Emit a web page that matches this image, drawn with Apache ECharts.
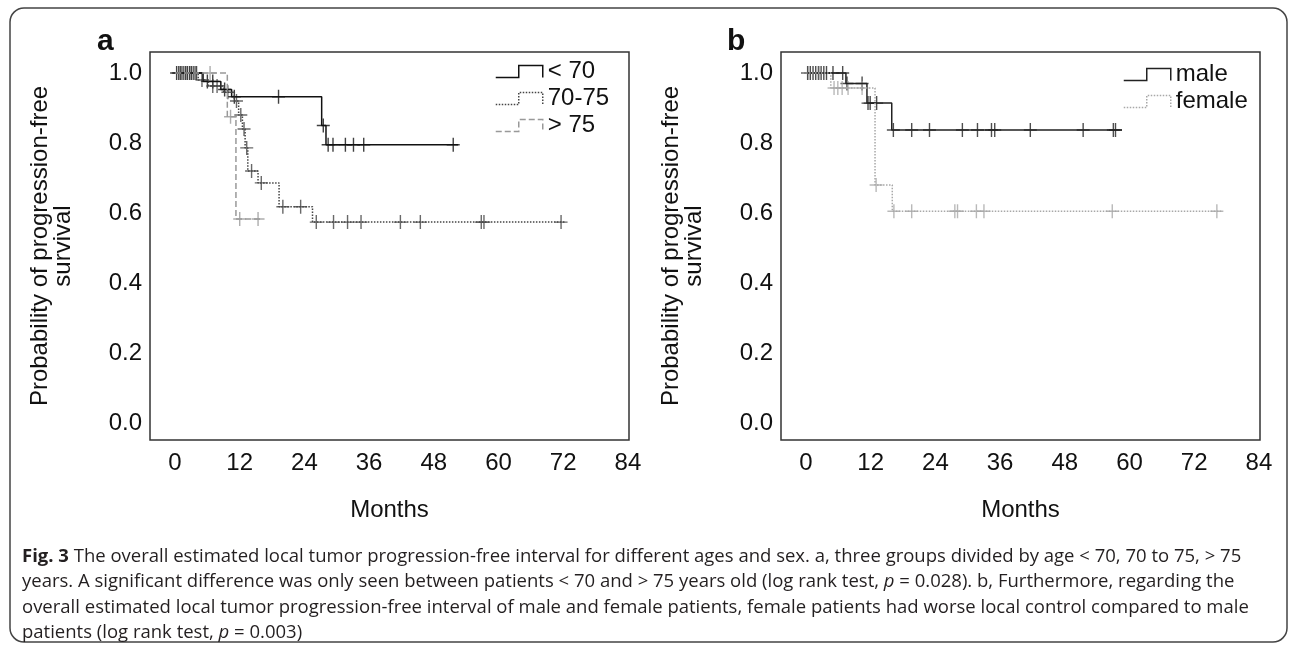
<!DOCTYPE html>
<html>
<head>
<meta charset="utf-8">
<script src="https://cdn.jsdelivr.net/npm/echarts@6/dist/echarts.min.js"></script>
<style>
  html, body { margin: 0; padding: 0; background: #fff; }
  #chart { width: 1292px; height: 645px; }
</style>
</head>
<body>
<div id="chart"></div>
<script>
// tick labels
var monthTicks = [0, 12, 24, 36, 48, 60, 72, 84];
var probTicks = [0, 0.2, 0.4, 0.6, 0.8, 1.0];

// panel a: age groups (step times in months, survival after each step)
var lt70Times = [0, 5.2, 8.5, 10.5, 27.2, 28.0, 52.5];
var lt70Surv = [1.0, 0.976, 0.953, 0.932, 0.85, 0.795, 0.795];
var lt70Cens = [0.3, 0.7, 1.1, 1.5, 1.9, 2.3, 2.7, 3.1, 3.5, 3.9, 6.0, 7.0, 9.2, 11.0, 19.2, 27.5, 28.4, 29.3, 31.6, 33.1, 35.0, 51.6];

var mid7075Times = [0, 4.3, 6.2, 9.0, 11.0, 11.8, 12.5, 13.0, 13.5, 15.4, 19.3, 25.5, 72.5];
var mid7075Surv = [1.0, 0.98, 0.963, 0.945, 0.92, 0.88, 0.84, 0.786, 0.72, 0.686, 0.618, 0.574, 0.574];
var mid7075Cens = [1.0, 2.0, 3.0, 4.0, 5.0, 7.0, 7.8, 9.8, 11.4, 12.2, 12.8, 13.3, 14.2, 16.0, 20.0, 23.3, 26.2, 29.4, 32.0, 34.5, 41.8, 45.5, 56.8, 57.3, 71.6];

var gt75Times = [0, 9.7, 11.3, 16.0];
var gt75Surv = [1.0, 0.875, 0.583, 0.583];
var gt75Cens = [6.5, 10.3, 12.0, 15.4];

// panel b: sex
var maleTimes = [0, 7.4, 11.3, 15.9, 58.6];
var maleSurv = [1.0, 0.97, 0.914, 0.837, 0.837];
var maleCens = [0.3, 0.8, 1.3, 1.8, 2.3, 2.8, 3.3, 3.8, 5.0, 6.8, 7.6, 10.4, 11.5, 11.9, 13.1, 16.2, 19.6, 22.9, 29.0, 31.8, 34.4, 35.0, 41.6, 51.4, 57.0, 57.4];

var femaleTimes = [0, 4.6, 12.8, 16.0, 77.0];
var femaleSurv = [1.0, 0.957, 0.68, 0.605, 0.605];
var femaleCens = [0.5, 2.5, 5.2, 5.9, 6.7, 7.8, 10.4, 13.0, 16.3, 19.6, 27.6, 28.1, 31.6, 33.0, 56.8, 76.2];

var FONT = 'Liberation Sans, Arial, sans-serif';
var PLUS = 'path://M5.8,0H7.2V14H5.8Z M0,6.3H13V7.7H0Z';

function pairs(times, surv) {
  var out = [];
  for (var i = 0; i < times.length; i++) out.push([times[i], surv[i]]);
  return out;
}
// survival value of the step curve at time t
function survAt(times, surv, t) {
  var v = surv[0];
  for (var i = 0; i < times.length; i++) {
    if (times[i] <= t) v = surv[i];
  }
  return v;
}
function censPoints(times, surv, cens) {
  return cens.map(function (t) { return [t, survAt(times, surv, t)]; });
}

function kmSeries(name, idx, times, surv, cens, color, type) {
  return [{
    name: name,
    type: 'line',
    step: 'end',
    xAxisIndex: idx, yAxisIndex: idx,
    showSymbol: false,
    data: pairs(times, surv),
    lineStyle: { color: color, width: 1.5, type: type },
    itemStyle: { color: color },
    silent: true
  }, {
    name: name + ' censored',
    type: 'scatter',
    xAxisIndex: idx, yAxisIndex: idx,
    symbol: PLUS,
    symbolSize: [13, 14],
    data: censPoints(times, surv, cens),
    itemStyle: { color: color },
    silent: true
  }];
}

function xAx(idx) {
  return {
    type: 'value', gridIndex: idx, min: -4.64, max: 84.2,
    axisLine: { show: false }, axisTick: { show: false }, splitLine: { show: false },
    axisLabel: { customValues: monthTicks, fontSize: 24, color: '#111', fontFamily: FONT, margin: 11 },
    name: 'Months', nameLocation: 'middle', nameGap: 58,
    nameTextStyle: { fontSize: 24, color: '#111', fontFamily: FONT }
  };
}
function yAx(idx) {
  return {
    type: 'value', gridIndex: idx, min: -0.0486, max: 1.06,
    axisLine: { show: false }, axisTick: { show: false }, splitLine: { show: false },
    axisLabel: {
      customValues: probTicks, fontSize: 24, color: '#111', fontFamily: FONT, margin: 8,
      formatter: function (v) { return v.toFixed(1); }
    },
    name: 'Probability of progression-free\nsurvival', nameLocation: 'middle', nameGap: 75,
    nameTextStyle: { fontSize: 24, color: '#111', fontFamily: FONT, lineHeight: 23 }
  };
}

var ICON = 'path://M0,12L23,12L23,0L47,0L47,12';
function legItem(name, color, type) {
  return { name: name, itemStyle: { color: 'rgba(0,0,0,0)', borderColor: color, borderWidth: 1.5, borderType: type } };
}

var c1 = '#111', c2 = '#444', c3 = '#999', cm = '#222', cf = '#a8a8a8';

var series = [].concat(
  kmSeries('< 70', 0, lt70Times, lt70Surv, lt70Cens, c1, 'solid'),
  kmSeries('70-75', 0, mid7075Times, mid7075Surv, mid7075Cens, c2, 'dotted'),
  kmSeries('> 75', 0, gt75Times, gt75Surv, gt75Cens, c3, 'dashed'),
  kmSeries('male', 1, maleTimes, maleSurv, maleCens, cm, 'solid'),
  kmSeries('female', 1, femaleTimes, femaleSurv, femaleCens, cf, 'dotted')
);

var captionLines = [
  '{b|Fig. 3} The overall estimated local tumor progression-free interval for different ages and sex. a, three groups divided by age < 70, 70 to 75, > 75',
  'years. A significant difference was only seen between patients < 70 and > 75 years old (log rank test, {i|p} = 0.028). b, Furthermore, regarding the',
  'overall estimated local tumor progression-free interval of male and female patients, female patients had worse local control compared to male',
  'patients (log rank test, {i|p} = 0.003)'
];
var CAP_FONT = 'Liberation Sans Narrow, Open Sans, sans-serif';
var captionGraphics = captionLines.map(function (line, i) {
  return {
    type: 'text', left: 22, top: 547 + i * 25.5, silent: true,
    style: {
      text: line, fill: '#231f20', fontSize: 18.5, fontFamily: CAP_FONT,
      rich: {
        b: { fontWeight: 'bold', fontSize: 18.5, fontFamily: CAP_FONT, fill: '#231f20' },
        i: { fontStyle: 'italic', fontSize: 18.5, fontFamily: CAP_FONT, fill: '#231f20' }
      }
    }
  };
});

var chart = echarts.init(document.getElementById('chart'), null, { renderer: 'canvas' });
chart.setOption({
  animation: false,
  backgroundColor: '#fff',
  grid: [
    { left: 150, right: 663, top: 52, bottom: 205, show: true, borderColor: '#333', borderWidth: 1.5 },
    { left: 781, right: 32, top: 52, bottom: 205, show: true, borderColor: '#333', borderWidth: 1.5 }
  ],
  xAxis: [xAx(0), xAx(1)],
  yAxis: [yAx(0), yAx(1)],
  legend: [{
    orient: 'vertical', left: 495, top: 58, itemWidth: 47, itemHeight: 12, itemGap: 0,
    icon: ICON, selectedMode: false, padding: 0,
    textStyle: { fontSize: 24, color: '#111', fontFamily: FONT, lineHeight: 27 },
    data: [legItem('< 70', c1, 'solid'), legItem('70-75', c2, 'dotted'), legItem('> 75', c3, 'dashed')]
  }, {
    orient: 'vertical', left: 1123, top: 61, itemWidth: 47, itemHeight: 12, itemGap: 0,
    icon: ICON, selectedMode: false, padding: 0,
    textStyle: { fontSize: 24, color: '#111', fontFamily: FONT, lineHeight: 27 },
    data: [legItem('male', cm, 'solid'), legItem('female', cf, 'dotted')]
  }],
  graphic: [
    { type: 'rect', silent: true, shape: { x: 10, y: 8, width: 1277, height: 634, r: 14 },
      style: { fill: 'none', stroke: '#444', lineWidth: 1.5 } },
    { type: 'text', left: 97, top: 27, silent: true,
      style: { text: 'a', fontSize: 30, fontWeight: 'bold', fontFamily: FONT, fill: '#111' } },
    { type: 'text', left: 727, top: 27, silent: true,
      style: { text: 'b', fontSize: 30, fontWeight: 'bold', fontFamily: FONT, fill: '#111' } }
  ].concat(captionGraphics),
  series: series
});
</script>
</body>
</html>
